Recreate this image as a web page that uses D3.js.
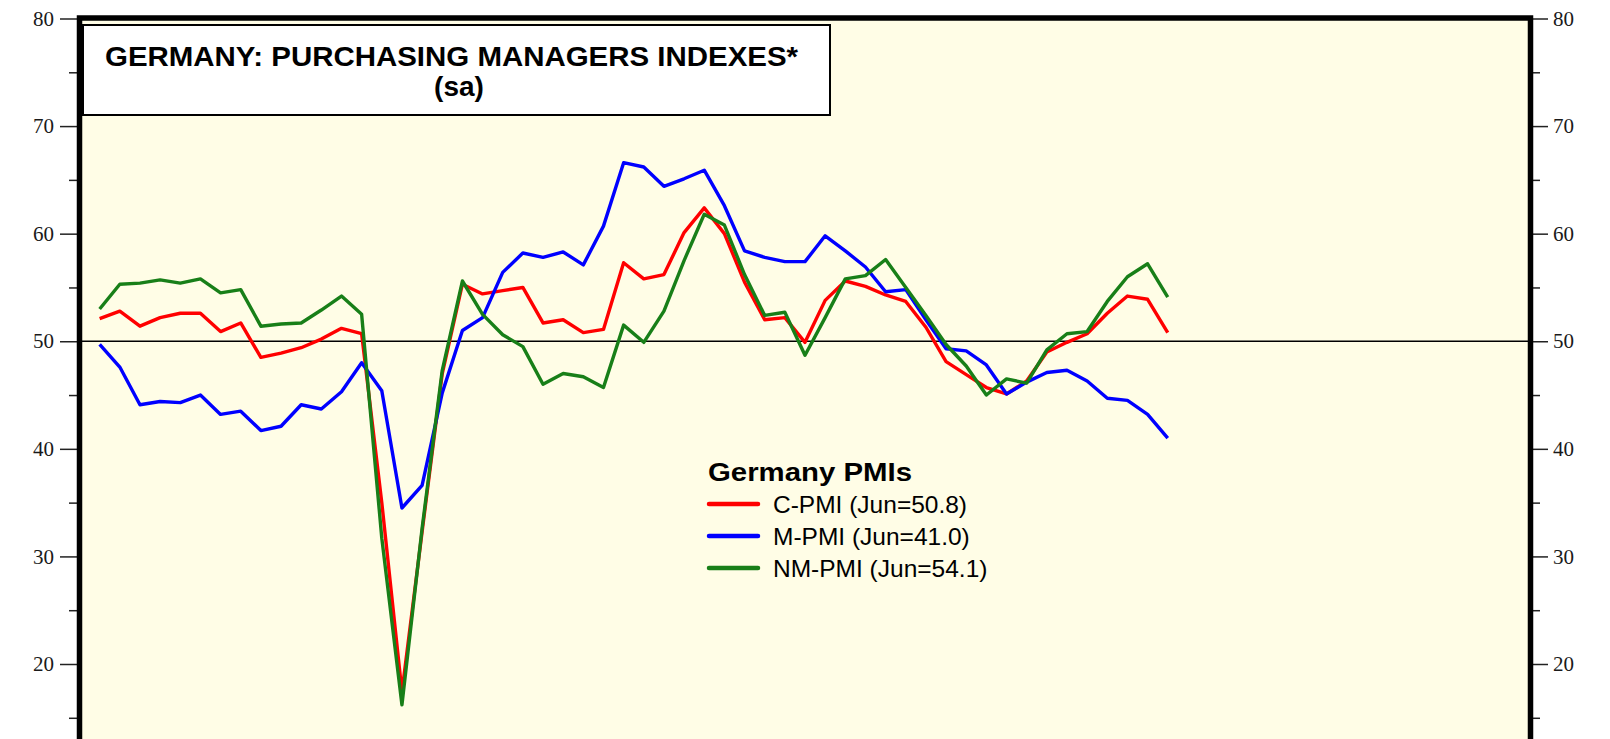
<html>
<head>
  <style>
  body { margin: 0; background: white; }
  .tick text { font-family: "Liberation Serif", "Times New Roman", serif; font-size: 21px; fill: #1a1a1a; }
  .tick line { stroke: #222; stroke-width: 1.5; }
  </style>
  <script src="https://d3js.org/d3.v7.min.js"></script>
</head>
<body>
  <script type="text/javascript">
  // monthly, Jan 2019 .. Jun 2023
  var months = d3.range(54);
  var cpmi = [52.1, 52.8, 51.4, 52.2, 52.6, 52.6, 50.9, 51.7, 48.5, 48.9, 49.4, 50.2,
              51.2, 50.7, 35.0, 17.4, 32.3, 47.0, 55.3, 54.4, 54.7, 55.0, 51.7, 52.0,
              50.8, 51.1, 57.3, 55.8, 56.2, 60.1, 62.4, 60.0, 55.5, 52.0, 52.2, 49.9,
              53.8, 55.6, 55.1, 54.3, 53.7, 51.3, 48.1, 46.9, 45.7, 45.1, 46.3, 49.0,
              49.9, 50.7, 52.6, 54.2, 53.9, 50.8];
  var mpmi = [49.7, 47.6, 44.1, 44.4, 44.3, 45.0, 43.2, 43.5, 41.7, 42.1, 44.1, 43.7,
              45.3, 48.0, 45.4, 34.5, 36.6, 45.2, 51.0, 52.2, 56.4, 58.2, 57.8, 58.3,
              57.1, 60.7, 66.6, 66.2, 64.4, 65.1, 65.9, 62.6, 58.4, 57.8, 57.4, 57.4,
              59.8, 58.4, 56.9, 54.6, 54.8, 52.0, 49.3, 49.1, 47.8, 45.1, 46.2, 47.1,
              47.3, 46.3, 44.7, 44.5, 43.2, 41.0];
  var nmpmi = [53.0, 55.3, 55.4, 55.7, 55.4, 55.8, 54.5, 54.8, 51.4, 51.6, 51.7, 52.9,
               54.2, 52.5, 31.7, 16.2, 32.6, 47.3, 55.6, 52.5, 50.6, 49.5, 46.0, 47.0,
               46.7, 45.7, 51.5, 49.9, 52.8, 57.5, 61.8, 60.8, 56.2, 52.4, 52.7, 48.7,
               52.2, 55.8, 56.1, 57.6, 55.0, 52.4, 49.7, 47.7, 45.0, 46.5, 46.1, 49.2,
               50.7, 50.9, 53.7, 56.0, 57.2, 54.1];
  var seriesNames = ["C-PMI (Jun=50.8)", "M-PMI (Jun=41.0)", "NM-PMI (Jun=54.1)"];
  var seriesColors = ["#ff0000", "#0000ff", "#187f18"];
  var majorTicks = [20, 30, 40, 50, 60, 70, 80];
  var minorTicks = [15, 25, 35, 45, 55, 65, 75];

  var screen = {width: 1610, height: 739};
  var plot = {left: 79.5, right: 1530.5, top: 18};

  var xScale = d3.scaleLinear()
      .domain([-1, 71])
      .range([plot.left, plot.right]);
  var yScale = d3.scaleLinear()
      .domain([20, 80])
      .range([664, 18.5]);

  var svg = d3.select("body").append("svg")
    .attr("width", screen.width)
    .attr("height", screen.height);

  // plot background
  svg.append("rect")
    .attr("x", plot.left).attr("y", plot.top)
    .attr("width", plot.right - plot.left)
    .attr("height", screen.height)
    .attr("fill", "#fffde6");

  // y axes, left and right
  var leftAxis = d3.axisLeft(yScale).tickValues(majorTicks).tickSize(17).tickPadding(6);
  var leftMinor = d3.axisLeft(yScale).tickValues(minorTicks).tickSize(8).tickFormat("");
  var rightAxis = d3.axisRight(yScale).tickValues(majorTicks).tickSize(15).tickPadding(5);
  var rightMinor = d3.axisRight(yScale).tickValues(minorTicks).tickSize(7).tickFormat("");

  [[leftAxis, 77], [leftMinor, 77], [rightAxis, 1533], [rightMinor, 1533]].forEach(function(a){
    var g = svg.append("g")
      .attr("transform", "translate(" + a[1] + ",0)")
      .call(a[0]);
    g.select(".domain").remove();
  });

  // 50 line
  svg.append("line")
    .attr("x1", plot.left).attr("x2", plot.right)
    .attr("y1", yScale(50)).attr("y2", yScale(50))
    .attr("stroke", "black").attr("stroke-width", 1.5);

  // series
  var line = d3.line()
    .x(function(d, i){ return xScale(months[i]); })
    .y(function(d){ return yScale(d); });

  var drawOrder = [[cpmi, 0], [mpmi, 1], [nmpmi, 2]];
  drawOrder.forEach(function(s){
    svg.append("path")
      .datum(s[0])
      .attr("d", line)
      .attr("fill", "none")
      .attr("stroke", seriesColors[s[1]])
      .attr("stroke-width", 3.4)
      .attr("stroke-linejoin", "round");
  });

  // frame
  svg.append("path")
    .attr("d", "M" + plot.left + "," + (screen.height + 10) + "V" + plot.top + "H" + plot.right + "V" + (screen.height + 10))
    .attr("fill", "none")
    .attr("stroke", "black")
    .attr("stroke-width", 5.5);

  // title box
  svg.append("rect")
    .attr("x", 83).attr("y", 25)
    .attr("width", 747).attr("height", 90)
    .attr("fill", "white")
    .attr("stroke", "black").attr("stroke-width", 2);

  svg.append("text")
    .attr("x", 105).attr("y", 66)
    .attr("textLength", 693)
    .attr("lengthAdjust", "spacingAndGlyphs")
    .style("font-family", "'Liberation Sans', Arial, sans-serif")
    .style("font-weight", "bold")
    .style("font-size", "28px")
    .text("GERMANY: PURCHASING MANAGERS INDEXES*");

  svg.append("text")
    .attr("x", 459).attr("y", 96)
    .attr("text-anchor", "middle")
    .style("font-family", "'Liberation Sans', Arial, sans-serif")
    .style("font-weight", "bold")
    .style("font-size", "28px")
    .text("(sa)");

  // legend
  svg.append("text")
    .attr("x", 708).attr("y", 481)
    .attr("textLength", 204)
    .attr("lengthAdjust", "spacingAndGlyphs")
    .style("font-family", "'Liberation Sans', Arial, sans-serif")
    .style("font-weight", "bold")
    .style("font-size", "26px")
    .text("Germany PMIs");

  seriesNames.forEach(function(name, i){
    var ly = 504 + i * 32;
    svg.append("line")
      .attr("x1", 709).attr("x2", 758)
      .attr("y1", ly).attr("y2", ly)
      .attr("stroke", seriesColors[i])
      .attr("stroke-width", 4.5)
      .attr("stroke-linecap", "round");
    svg.append("text")
      .attr("x", 773).attr("y", ly + 9)
      .style("font-family", "'Liberation Sans', Arial, sans-serif")
      .style("font-size", "24.5px")
      .text(name);
  });
  </script>
</body>
</html>
